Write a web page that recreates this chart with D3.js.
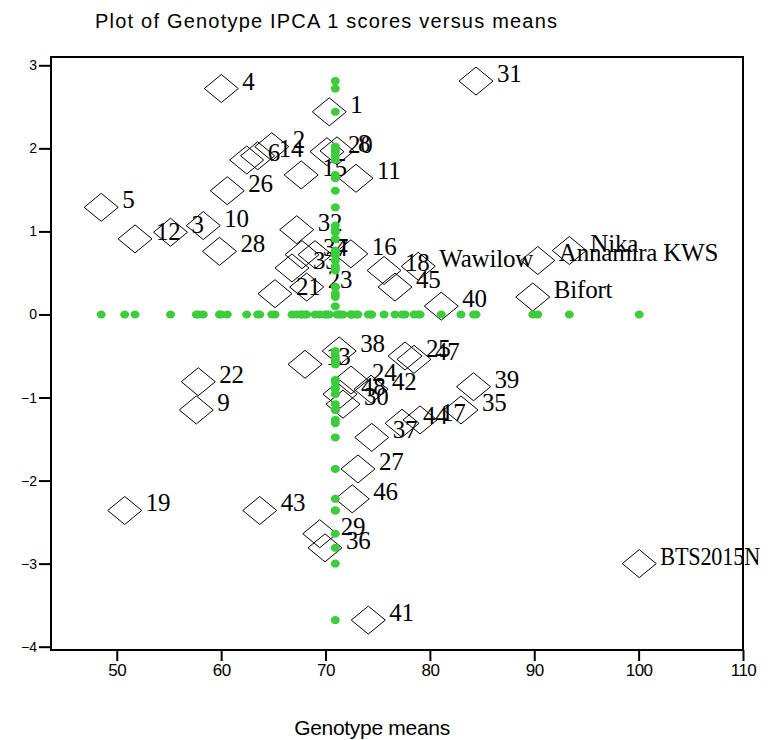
<!DOCTYPE html>
<html>
<head>
<meta charset="utf-8">
<script src="https://cdn.jsdelivr.net/npm/d3@7"></script>
<style>
  body { margin: 0; background: #fff; }
  svg { display: block; }
</style>
</head>
<body>
<div id="chart"></div>
<script>
// ------------------- //
// DATA
// ------------------- //
var genotypes = ["1","2","3","4","5","6","7","8","9","10",
  "11","12","13","14","15","16","17","18","19","20",
  "21","22","23","24","25","26","27","28","29","30",
  "31","32","33","34","35","36","37","38","39","40",
  "41","42","43","44","45","46","47","48",
  "Wawilow","Annamira KWS","Nika","Bifort","BTS2015N"]

var means = [70.36, 64.85, 55.15, 60.02, 48.51, 62.45, 69.0, 71.1, 57.62, 58.29,
  72.92, 51.75, 68.04, 63.5, 67.67, 72.43, 79.06, 75.61, 50.76, 70.14,
  65.16, 57.81, 68.2, 72.44, 77.62, 60.59, 73.11, 59.84, 69.45, 71.68,
  84.42, 67.24, 66.79, 67.75, 82.98, 69.95, 74.43, 71.31, 84.18, 81.09,
  74.1, 74.36, 63.7, 77.33, 76.66, 72.56, 78.48, 71.39,
  78.89, 90.34, 93.36, 89.86, 100.06]

var ipca1 = [2.44, 2.02, 0.99, 2.72, 1.29, 1.86, 0.72, 1.97, -1.15, 1.07,
  1.64, 0.91, -0.60, 1.91, 1.68, 0.73, -1.27, 0.53, -2.36, 1.96,
  0.25, -0.81, 0.33, -0.79, -0.50, 1.49, -1.86, 0.76, -2.64, -1.08,
  2.81, 1.02, 0.56, 0.72, -1.15, -2.81, -1.48, -0.44, -0.87, 0.10,
  -3.68, -0.90, -2.36, -1.31, 0.33, -2.22, -0.54, -0.96,
  0.58, 0.65, 0.77, 0.21, -3.00]

var grandMean = 70.94

var xTicks = [50, 60, 70, 80, 90, 100, 110]
var yTicks = [-4, -3, -2, -1, 0, 1, 2, 3]

var data = genotypes.map(function(g, i) { return {name: g, mean: means[i], ipca: ipca1[i]} })

// ------------------- //
// SVG + SCALES
// ------------------- //
var width = 768, height = 740
var plot = {left: 51, right: 743, top: 57, bottom: 650}

var svg = d3.select("#chart")
  .append("svg")
    .attr("width", width)
    .attr("height", height)

var x = d3.scaleLinear()
    .domain([43.7, 110])
    .range([plot.left, plot.right])

var y = d3.scaleLinear()
    .domain([-4.04, 3.1])
    .range([plot.bottom, plot.top])

// title
svg.append("text")
    .attr("x", 95)
    .attr("y", 28)
    .attr("textLength", 462)
    .attr("lengthAdjust", "spacing")
    .style("font-family", "'Liberation Sans', Arial, sans-serif")
    .style("font-size", "20px")
    .text("Plot of Genotype IPCA 1 scores versus means")

// x axis label
svg.append("text")
    .attr("x", 372)
    .attr("y", 735)
    .attr("text-anchor", "middle")
    .style("font-family", "'Liberation Sans', Arial, sans-serif")
    .style("font-size", "21px")
    .style("letter-spacing", "-0.3px")
    .text("Genotype means")

// ------------------- //
// AXES
// ------------------- //
var xAxis = svg.append("g")
    .attr("transform", "translate(0," + plot.bottom + ")")
    .call(d3.axisBottom(x).tickValues(xTicks).tickSize(11).tickPadding(3).tickFormat(d3.format("d")))
xAxis.select(".domain").remove()
xAxis.selectAll("line").attr("stroke", "#000").attr("stroke-width", 2)
xAxis.selectAll("text")
    .attr("fill", "#000")
    .style("font-family", "'Liberation Sans', Arial, sans-serif")
    .style("font-size", "17px")
    .style("letter-spacing", "-0.5px")

var yAxis = svg.append("g")
    .attr("transform", "translate(" + plot.left + ",0)")
    .call(d3.axisLeft(y).tickValues(yTicks).tickSize(12).tickPadding(2).tickFormat(d3.format("d")))
yAxis.select(".domain").remove()
yAxis.selectAll("line").attr("stroke", "#000").attr("stroke-width", 2)
yAxis.selectAll("text")
    .attr("fill", "#000")
    .style("font-family", "'Liberation Sans', Arial, sans-serif")
    .style("font-size", "14px")

// frame round the plot
svg.append("rect")
    .attr("x", plot.left)
    .attr("y", plot.top)
    .attr("width", plot.right - plot.left)
    .attr("height", plot.bottom - plot.top)
    .attr("fill", "none")
    .attr("stroke", "#000")
    .attr("stroke-width", 2)

// ------------------- //
// POINTS
// ------------------- //
var dw = 17, dh = 14   // half width / half height of the diamonds

svg.selectAll(".diamond")
  .data(data)
  .enter()
  .append("path")
    .attr("class", "diamond")
    .attr("d", function(d) {
      var cx = x(d.mean), cy = y(d.ipca)
      return "M" + (cx - dw) + "," + cy + "L" + cx + "," + (cy - dh) +
             "L" + (cx + dw) + "," + cy + "L" + cx + "," + (cy + dh) + "Z"
    })
    .attr("fill", "none")
    .attr("stroke", "#000")
    .attr("stroke-width", 1)

var labels = svg.selectAll(".label")
  .data(data)
  .enter()
  .append("text")
    .attr("class", "label")
    .attr("x", function(d) { return x(d.mean) + 21 })
    .attr("y", function(d) { return y(d.ipca) + 1 })
    .style("font-family", "'Liberation Serif', 'Times New Roman', serif")
    .style("font-size", "25px")
    .style("letter-spacing", "-0.2px")
    .text(function(d) { return d.name })

// squeeze labels that would run off the right edge
labels.each(function(d) {
  var room = width - 8 - (x(d.mean) + 21)
  if (this.getComputedTextLength() > room) {
    d3.select(this).attr("textLength", room).attr("lengthAdjust", "spacingAndGlyphs")
  }
})

// green projections on the grand mean line and on the zero line
var green = "#3ccc3c"
svg.selectAll(".dotV")
  .data(data)
  .enter()
  .append("ellipse")
    .attr("class", "dotV")
    .attr("cx", x(grandMean))
    .attr("cy", function(d) { return y(d.ipca) })
    .attr("rx", 4.5)
    .attr("ry", 4)
    .attr("fill", green)

svg.selectAll(".dotH")
  .data(data)
  .enter()
  .append("ellipse")
    .attr("class", "dotH")
    .attr("cx", function(d) { return x(d.mean) })
    .attr("cy", y(0))
    .attr("rx", 4.5)
    .attr("ry", 4)
    .attr("fill", green)
</script>
</body>
</html>
